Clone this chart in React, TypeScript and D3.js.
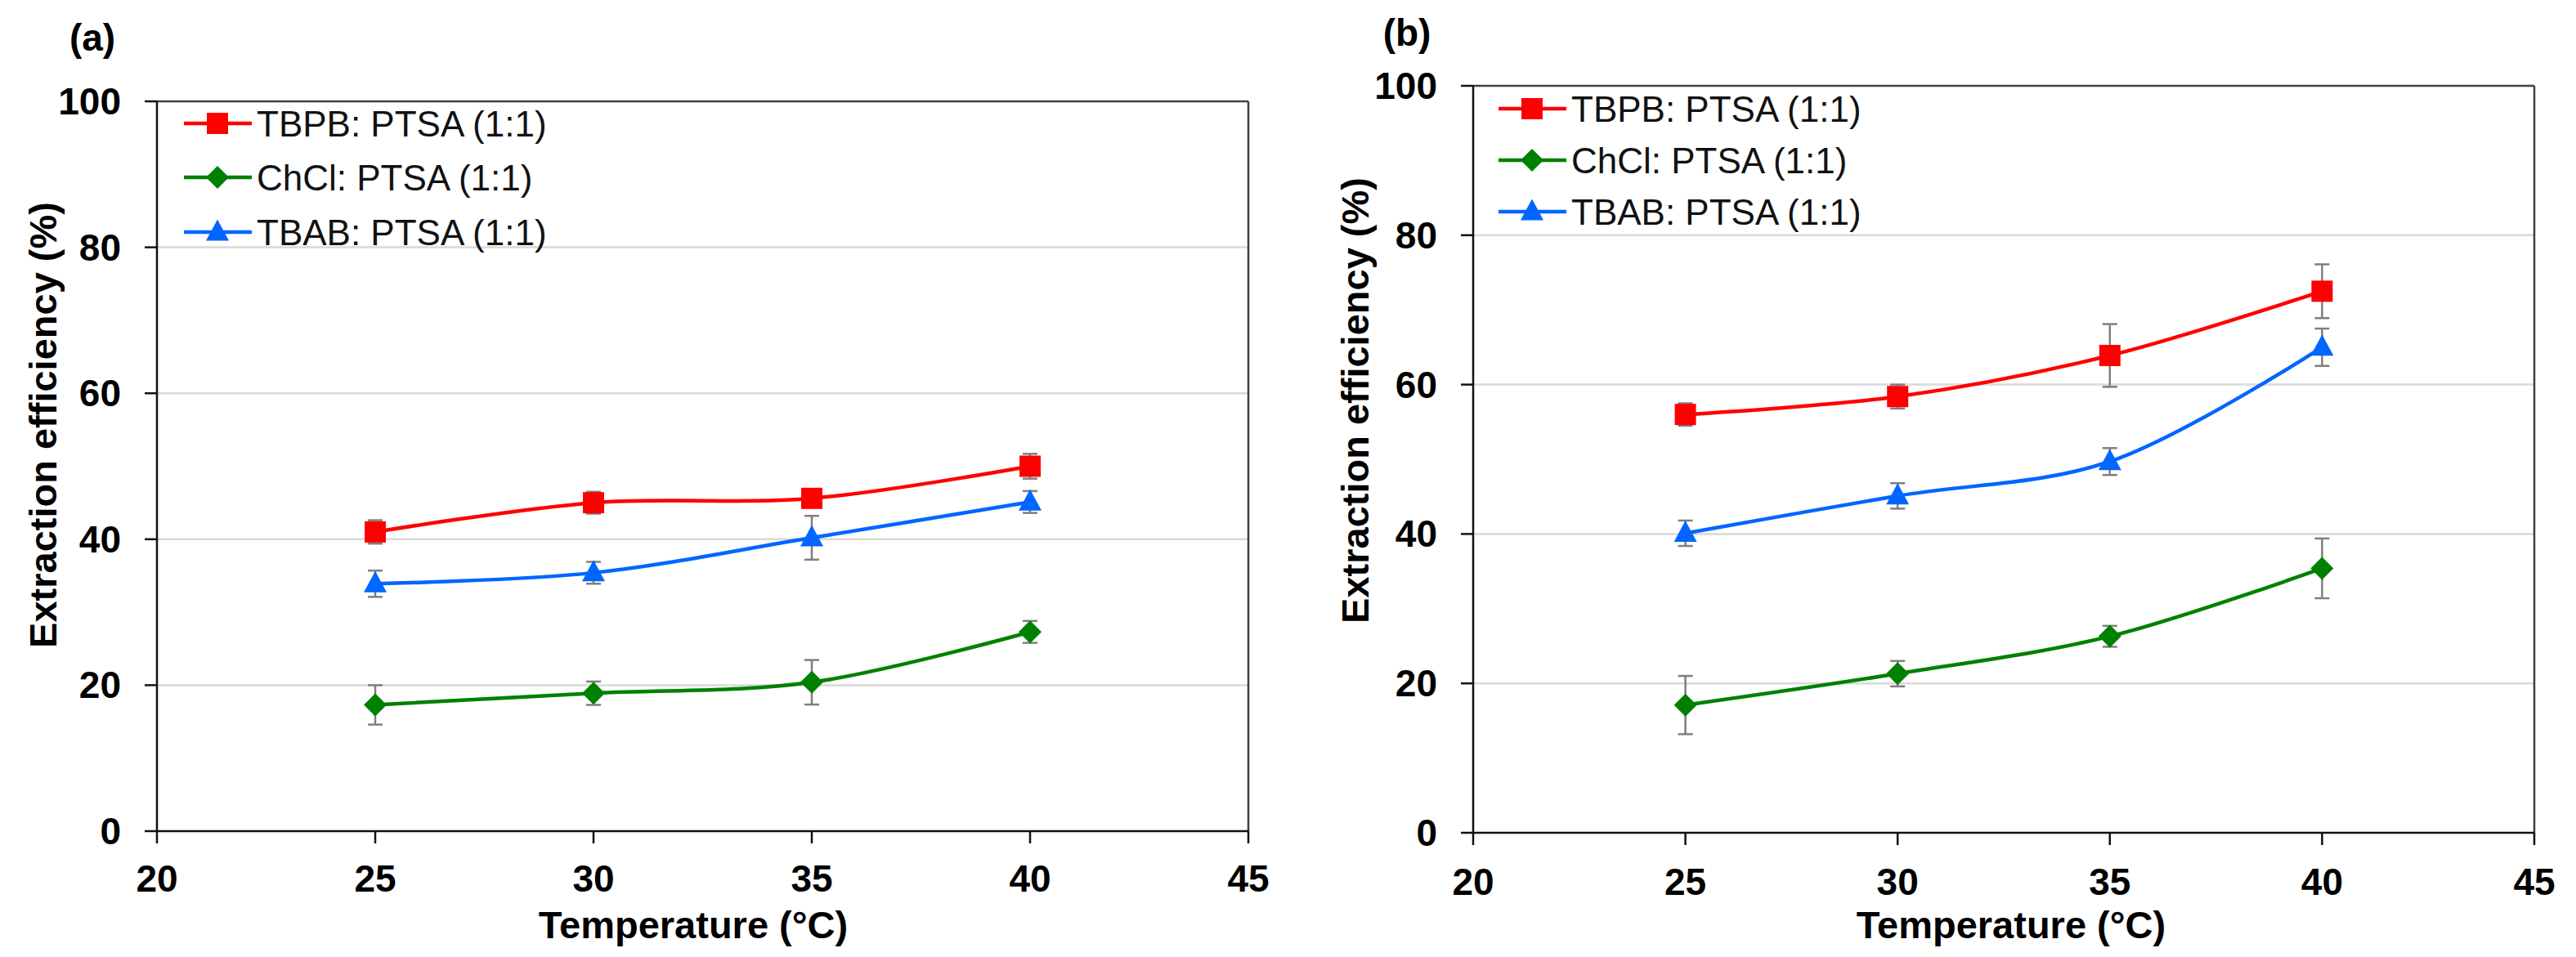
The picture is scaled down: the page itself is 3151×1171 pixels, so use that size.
import React from "react";
import * as d3 from "d3";

// ---- data ----
const temps = [25, 30, 35, 40];
const seriesNames = ["TBPB: PTSA (1:1)", "ChCl: PTSA (1:1)", "TBAB: PTSA (1:1)"];
const xTicks = [20, 25, 30, 35, 40, 45];
const yTicks = [0, 20, 40, 60, 80, 100];

const aTBPB = [41.0, 45.0, 45.6, 50.0];
const aTBPBErr = [1.6, 1.5, 1.2, 1.7];
const aChCl = [17.3, 18.9, 20.4, 27.3];
const aChClErr = [2.7, 1.6, 3.05, 1.5];
const aTBAB = [33.9, 35.4, 40.2, 45.1];
const aTBABErr = [1.8, 1.5, 3.0, 1.5];

const bTBPB = [56.0, 58.4, 63.9, 72.5];
const bTBPBErr = [1.5, 1.6, 4.2, 3.6];
const bChCl = [17.1, 21.3, 26.3, 35.4];
const bChClErr = [3.9, 1.7, 1.4, 4.0];
const bTBAB = [40.1, 45.1, 49.7, 65.0];
const bTBABErr = [1.7, 1.7, 1.8, 2.5];

const colors = ["#ff0000", "#008000", "#0066ff"];
const shapes = ["square", "diamond", "triangle"];

const FONT = "'Liberation Sans', Arial, sans-serif";

function Marker({ shape, x, y, color }) {
  if (shape === "square") {
    return <rect x={x - 13} y={y - 13} width={26} height={26} fill={color} />;
  }
  if (shape === "diamond") {
    const r = 14;
    return <path d={`M${x},${y - r}L${x + r},${y}L${x},${y + r}L${x - r},${y}Z`} fill={color} />;
  }
  const h = 26, w = 28;
  return <path d={`M${x},${y - h * 0.6}L${x + w / 2},${y + h * 0.4}L${x - w / 2},${y + h * 0.4}Z`} fill={color} />;
}

function Panel({ cfg, series }) {
  const x = d3.scaleLinear().domain([20, 45]).range([cfg.left, cfg.right]);
  const y = d3.scaleLinear().domain([0, 100]).range([cfg.bottom, cfg.top]);
  const line = d3
    .line<number>()
    .x((_, i) => x(temps[i]))
    .y((d) => y(d))
    .curve(d3.curveCatmullRom.alpha(0.5));

  return (
    <g>
      <text x={cfg.labelX} y={cfg.labelY} fontFamily={FONT} fontWeight="bold" fontSize={46} textAnchor="middle" dominantBaseline="central">
        {cfg.label}
      </text>
      {/* gridlines */}
      {yTicks.filter((t) => t > 0 && t < 100).map((t) => (
        <line key={"g" + t} x1={cfg.left} x2={cfg.right} y1={y(t)} y2={y(t)} stroke="#d9d9d9" strokeWidth={2.5} />
      ))}
      {/* frame top/right */}
      <line x1={cfg.left} x2={cfg.right} y1={y(100)} y2={y(100)} stroke="#404040" strokeWidth={2.5} />
      <line x1={cfg.right} x2={cfg.right} y1={y(100)} y2={y(0)} stroke="#404040" strokeWidth={2.5} />
      {/* axes */}
      <line x1={cfg.left} x2={cfg.left} y1={y(100)} y2={y(0)} stroke="#111" strokeWidth={2.5} />
      <line x1={cfg.left} x2={cfg.right} y1={y(0)} y2={y(0)} stroke="#111" strokeWidth={2.5} />
      {yTicks.map((t) => (
        <g key={"y" + t}>
          <line x1={cfg.left - 15} x2={cfg.left} y1={y(t)} y2={y(t)} stroke="#111" strokeWidth={2.5} />
          <text x={cfg.left - 44} y={y(t)} fontFamily={FONT} fontWeight="bold" fontSize={46} textAnchor="end" dominantBaseline="central">
            {t}
          </text>
        </g>
      ))}
      {xTicks.map((t) => (
        <g key={"x" + t}>
          <line x1={x(t)} x2={x(t)} y1={y(0)} y2={y(0) + 15} stroke="#111" strokeWidth={2.5} />
          <text x={x(t)} y={cfg.xLabelY} fontFamily={FONT} fontWeight="bold" fontSize={46} textAnchor="middle" dominantBaseline="central">
            {t}
          </text>
        </g>
      ))}
      <text x={cfg.xTitleX} y={1131} fontFamily={FONT} fontWeight="bold" fontSize={47} textAnchor="middle" dominantBaseline="central">
        Temperature (°C)
      </text>
      <text
        transform={`translate(${cfg.yTitleX},${cfg.yTitleY}) rotate(-90)`}
        fontFamily={FONT}
        fontWeight="bold"
        fontSize={47}
        textAnchor="middle"
        dominantBaseline="central"
      >
        Extraction efficiency (%)
      </text>
      {/* error bars */}
      {series.map((s, si) =>
        s.values.map((v, i) => {
          const cx = x(temps[i]);
          const e = s.err[i];
          return (
            <g key={`e${si}-${i}`} stroke="#7f7f7f" strokeWidth={2.5}>
              <line x1={cx} x2={cx} y1={y(v - e)} y2={y(v + e)} />
              <line x1={cx - 9} x2={cx + 9} y1={y(v - e)} y2={y(v - e)} />
              <line x1={cx - 9} x2={cx + 9} y1={y(v + e)} y2={y(v + e)} />
            </g>
          );
        })
      )}
      {/* lines */}
      {series.map((s, si) => (
        <path key={"l" + si} d={line(s.values) || ""} fill="none" stroke={colors[si]} strokeWidth={4.5} />
      ))}
      {/* markers */}
      {series.map((s, si) =>
        s.values.map((v, i) => <Marker key={`m${si}-${i}`} shape={shapes[si]} x={x(temps[i])} y={y(v)} color={colors[si]} />)
      )}
      {/* legend */}
      {seriesNames.map((name, si) => {
        const ly = cfg.legendY[si];
        return (
          <g key={"lg" + si}>
            <line x1={cfg.legendX0} x2={cfg.legendX0 + 83} y1={ly} y2={ly} stroke={colors[si]} strokeWidth={4.5} />
            <Marker shape={shapes[si]} x={cfg.legendX0 + 41} y={ly} color={colors[si]} />
            <text x={cfg.legendX0 + 89} y={ly} fontFamily={FONT} fontSize={44} dominantBaseline="central" fill="#111">
              {name}
            </text>
          </g>
        );
      })}
    </g>
  );
}

export default function App() {
  const panelA = {
    label: "(a)", labelX: 113, labelY: 46,
    left: 192, right: 1527, top: 124, bottom: 1017,
    xLabelY: 1075, xTitleX: 848, yTitleX: 52, yTitleY: 520,
    legendX0: 225, legendY: [151, 217, 284],
  };
  const panelB = {
    label: "(b)", labelX: 1721, labelY: 40,
    left: 1802, right: 3100, top: 105, bottom: 1019,
    xLabelY: 1079, xTitleX: 2460, yTitleX: 1657, yTitleY: 490,
    legendX0: 1833, legendY: [133, 196, 259],
  };
  const seriesA = [
    { values: aTBPB, err: aTBPBErr },
    { values: aChCl, err: aChClErr },
    { values: aTBAB, err: aTBABErr },
  ];
  const seriesB = [
    { values: bTBPB, err: bTBPBErr },
    { values: bChCl, err: bChClErr },
    { values: bTBAB, err: bTBABErr },
  ];
  return (
    <div style={{ position: "absolute", left: 0, top: 0 }}>
      <svg width={3151} height={1171} viewBox="0 0 3151 1171" style={{ display: "block", background: "#fff" }}>
        <rect width={3151} height={1171} fill="#fff" />
        <Panel cfg={panelA} series={seriesA} />
        <Panel cfg={panelB} series={seriesB} />
      </svg>
    </div>
  );
}
